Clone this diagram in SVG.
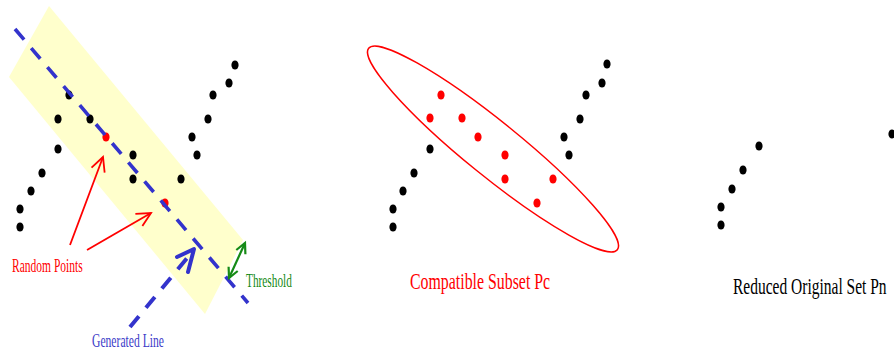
<svg xmlns="http://www.w3.org/2000/svg" width="894" height="354" viewBox="0 0 894 354">
  <style>
    .bk { fill: #000; }
    .rd { fill: #ff0000; }
    .lbl { font-family: "Liberation Serif", "Times New Roman", serif; }
    .dash { fill: none; stroke: #3333cc; stroke-dasharray: 14 11; }
  </style>
  <defs>
    <marker id="redHead" markerUnits="userSpaceOnUse" markerWidth="16" markerHeight="16" refX="14" refY="7" orient="auto" overflow="visible">
      <path d="M0,0 L14,7 L0,14" fill="none" stroke="#ff0000" stroke-width="1.8"/>
    </marker>
    <marker id="greenHead" markerUnits="userSpaceOnUse" markerWidth="12" markerHeight="12" refX="10" refY="5" orient="auto-start-reverse" overflow="visible">
      <path d="M0,0 L10,5 L0,10" fill="none" stroke="#158a15" stroke-width="2.2"/>
    </marker>
  </defs>

  <rect width="894" height="354" fill="#ffffff"/>

  <!-- Panel 1 -->
  <g id="band">
    <polygon points="49,6 9,77 205,314 243,240" fill="#ffffcc"/>
  </g>
  <g id="panel1-points">
    <ellipse class="bk" cx="69" cy="95" rx="3.6" ry="4.6"/>
    <ellipse class="bk" cx="58" cy="119" rx="3.6" ry="4.6"/>
    <ellipse class="bk" cx="90" cy="119" rx="3.6" ry="4.6"/>
    <ellipse class="bk" cx="58" cy="149" rx="3.6" ry="4.6"/>
    <ellipse class="bk" cx="42" cy="173" rx="3.6" ry="4.6"/>
    <ellipse class="bk" cx="31" cy="191" rx="3.6" ry="4.6"/>
    <ellipse class="bk" cx="20" cy="209" rx="3.6" ry="4.6"/>
    <ellipse class="bk" cx="20" cy="227" rx="3.6" ry="4.6"/>
    <ellipse class="bk" cx="133" cy="155" rx="3.6" ry="4.6"/>
    <ellipse class="bk" cx="133" cy="179" rx="3.6" ry="4.6"/>
    <ellipse class="bk" cx="181" cy="179" rx="3.6" ry="4.6"/>
    <ellipse class="bk" cx="235" cy="65" rx="3.6" ry="4.6"/>
    <ellipse class="bk" cx="229" cy="83" rx="3.6" ry="4.6"/>
    <ellipse class="bk" cx="213" cy="95" rx="3.6" ry="4.6"/>
    <ellipse class="bk" cx="208" cy="119" rx="3.6" ry="4.6"/>
    <ellipse class="bk" cx="192" cy="137" rx="3.6" ry="4.6"/>
    <ellipse class="bk" cx="197" cy="155" rx="3.6" ry="4.6"/>
    <ellipse class="rd" cx="106" cy="137" rx="3.6" ry="4.6"/>
    <ellipse class="rd" cx="165" cy="203" rx="3.6" ry="4.6"/>
  </g>

  <g id="connectors">
    <line class="dash" x1="15" y1="29" x2="248" y2="303" stroke-width="3.6"/>
    <line class="dash" x1="130" y1="327" x2="192" y2="252" stroke-width="4"/>
    <polyline points="177,257 194,249 188,272" fill="none" stroke="#3333cc" stroke-width="4" stroke-linecap="round" stroke-linejoin="round"/>
    <line x1="70" y1="245" x2="103" y2="157" stroke="#ff0000" stroke-width="1.8" marker-end="url(#redHead)"/>
    <line x1="87" y1="250" x2="151" y2="213" stroke="#ff0000" stroke-width="1.8" marker-end="url(#redHead)"/>
    <line x1="229" y1="278" x2="245" y2="243" stroke="#158a15" stroke-width="2.2" marker-start="url(#greenHead)" marker-end="url(#greenHead)"/>
  </g>

  <g id="labels1">
    <text class="lbl" transform="translate(12,272) scale(0.62,1)" font-size="18" fill="#ff0000" textLength="114" lengthAdjust="spacingAndGlyphs">Random Points</text>
    <text class="lbl" transform="translate(92,347) scale(0.62,1)" font-size="18" fill="#3c3cc8" textLength="116" lengthAdjust="spacingAndGlyphs">Generated Line</text>
    <text class="lbl" transform="translate(246,287) scale(0.62,1)" font-size="18" fill="#158a15" textLength="74" lengthAdjust="spacingAndGlyphs">Threshold</text>
  </g>

  <!-- Panel 2 -->
  <g id="compatible-subset">
    <ellipse cx="493" cy="149" rx="160" ry="27" transform="rotate(39 493 149)" fill="none" stroke="#ff0000" stroke-width="1.5"/>
    <ellipse class="rd" cx="441" cy="95" rx="3.6" ry="4.6"/>
    <ellipse class="rd" cx="430" cy="118" rx="3.6" ry="4.6"/>
    <ellipse class="rd" cx="462" cy="118" rx="3.6" ry="4.6"/>
    <ellipse class="rd" cx="478" cy="137" rx="3.6" ry="4.6"/>
    <ellipse class="rd" cx="505" cy="155" rx="3.6" ry="4.6"/>
    <ellipse class="rd" cx="505" cy="179" rx="3.6" ry="4.6"/>
    <ellipse class="rd" cx="553" cy="179" rx="3.6" ry="4.6"/>
    <ellipse class="rd" cx="537" cy="203" rx="3.6" ry="4.6"/>
    <ellipse class="bk" cx="430" cy="149" rx="3.6" ry="4.6"/>
    <ellipse class="bk" cx="414" cy="173" rx="3.6" ry="4.6"/>
    <ellipse class="bk" cx="403" cy="191" rx="3.6" ry="4.6"/>
    <ellipse class="bk" cx="393" cy="209" rx="3.6" ry="4.6"/>
    <ellipse class="bk" cx="393" cy="227" rx="3.6" ry="4.6"/>
    <ellipse class="bk" cx="607" cy="64" rx="3.6" ry="4.6"/>
    <ellipse class="bk" cx="602" cy="83" rx="3.6" ry="4.6"/>
    <ellipse class="bk" cx="586" cy="95" rx="3.6" ry="4.6"/>
    <ellipse class="bk" cx="580" cy="119" rx="3.6" ry="4.6"/>
    <ellipse class="bk" cx="564" cy="137" rx="3.6" ry="4.6"/>
    <ellipse class="bk" cx="569" cy="155" rx="3.6" ry="4.6"/>
    <text class="lbl" transform="translate(410,289) scale(0.64,1)" font-size="24" fill="#ff0000" textLength="219" lengthAdjust="spacingAndGlyphs">Compatible Subset Pc</text>
  </g>

  <!-- Panel 3 -->
  <g id="reduced-set">
    <ellipse class="bk" cx="759" cy="146" rx="3.6" ry="4.6"/>
    <ellipse class="bk" cx="743" cy="170" rx="3.6" ry="4.6"/>
    <ellipse class="bk" cx="732" cy="189" rx="3.6" ry="4.6"/>
    <ellipse class="bk" cx="721" cy="207" rx="3.6" ry="4.6"/>
    <ellipse class="bk" cx="721" cy="225" rx="3.6" ry="4.6"/>
    <ellipse class="bk" cx="892" cy="134" rx="3.6" ry="4.6"/>
    <text class="lbl" transform="translate(733,294) scale(0.64,1)" font-size="24" fill="#000000" textLength="240" lengthAdjust="spacingAndGlyphs">Reduced Original Set Pn</text>
  </g>
</svg>
